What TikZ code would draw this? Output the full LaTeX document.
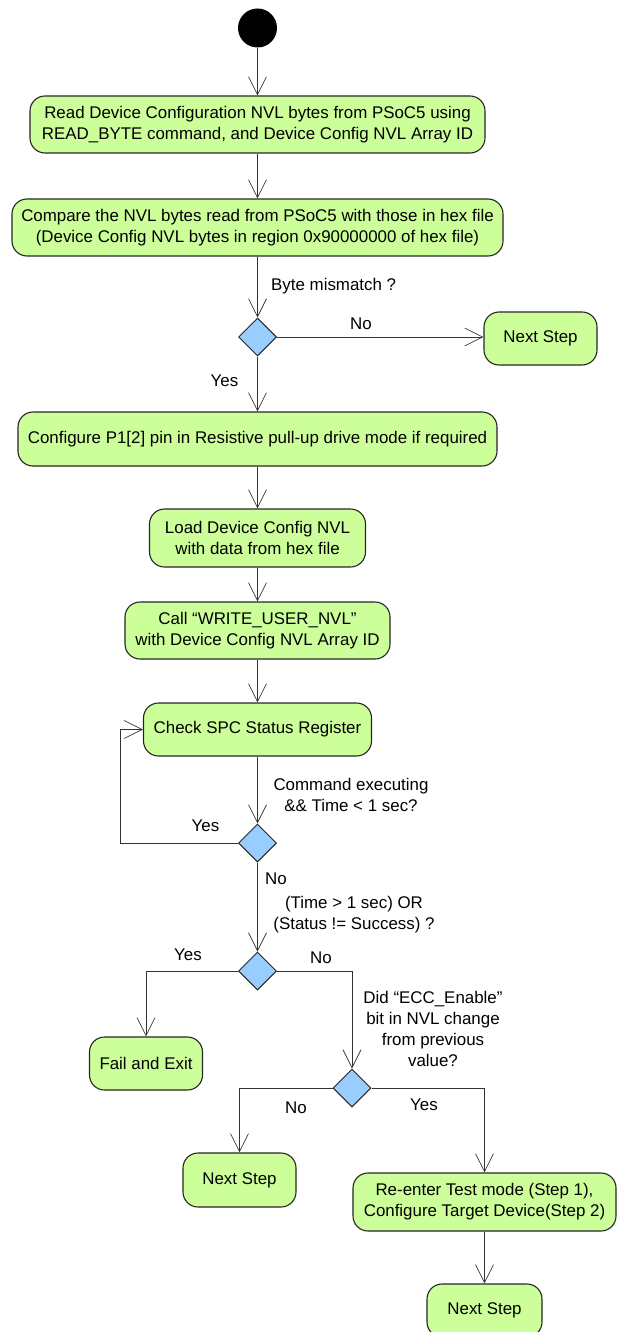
\documentclass[tikz,border=0pt]{standalone}
\usepackage{fontspec}
\setmainfont{Liberation Sans}
\usetikzlibrary{arrows.meta,shapes.geometric}
\definecolor{actgreen}{HTML}{CCFF99}
\definecolor{decblue}{HTML}{99CCFF}
\begin{document}
\begin{tikzpicture}[x=1pt,y=-1pt,
  every node/.style={font=\fontsize{16.9}{21}\selectfont},
  act/.style={draw=black!85, line width=1.1pt, fill=actgreen, rounded corners=15pt, align=center, inner sep=0pt},
  dec/.style={diamond, draw=black!85, line width=1pt, fill=decblue, minimum width=38pt, minimum height=38pt, inner sep=0pt},
  ini/.style={circle, fill=black, minimum size=39pt, inner sep=0pt},
  flow/.style={draw=black!80, line width=0.7pt, -{Straight Barb[length=18pt,width=18pt]}},
  lbl/.style={inner sep=0pt, align=center}]
\useasboundingbox (0,0) rectangle (620,1332);
\fill[white] (0,0) rectangle (620,1332);
% nodes
\node[ini] (s) at (257.5,28) {};
\node[act, minimum width=455pt, minimum height=57pt] (b1) at (257.5,124.5) {Read Device Configuration NVL bytes from PSoC5 using\\READ\_BYTE command, and Device Config NVL Array ID};
\node[act, minimum width=491pt, minimum height=57pt] (b2) at (257.5,227.5) {Compare the NVL bytes read from PSoC5 with those in hex file\\(Device Config NVL bytes in region 0x90000000 of hex file)};
\node[dec] (d1) at (257.5,337) {};
\node[act, minimum width=113pt, minimum height=53pt] (ns1) at (540.5,338.5) {Next Step};
\node[act, minimum width=479pt, minimum height=54pt] (b3) at (257.5,439) {Configure P1[2] pin in Resistive pull-up drive mode if required};
\node[act, minimum width=216pt, minimum height=58pt] (b4) at (257.5,538) {Load Device Config NVL\\with data from hex file};
\node[act, minimum width=265pt, minimum height=57pt] (b5) at (257.5,630.5) {Call “WRITE\_USER\_NVL”\\with Device Config NVL Array ID};
\node[act, minimum width=228pt, minimum height=53pt] (b6) at (257.5,729.5) {Check SPC Status Register};
\node[dec] (d2) at (257.5,843) {};
\node[dec] (d3) at (257.5,971) {};
\node[act, minimum width=113pt, minimum height=53pt] (fail) at (146,1063.5) {Fail and Exit};
\node[dec] (d4) at (352,1088) {};
\node[act, minimum width=113pt, minimum height=54pt] (ns2) at (239.5,1180) {Next Step};
\node[act, minimum width=263pt, minimum height=58pt] (re) at (484.5,1202) {Re-enter Test mode (Step 1),\\Configure Target Device(Step 2)};
\node[act, minimum width=115pt, minimum height=53pt] (ns3) at (484.5,1310.5) {Next Step};
% labels
\node[lbl, anchor=west] (l1) at (271,286) {Byte mismatch ?};
\node[lbl] (l2) at (361,324) {No};
\node[lbl] (l3) at (224.5,381) {Yes};
\node[lbl] (l4) at (351,795) {Command executing\\\&\& Time < 1 sec?};
\node[lbl] (l5) at (205.5,826) {Yes};
\node[lbl] (l6) at (276,879) {No};
\node[lbl] (l7) at (354,915) {(Time > 1 sec) OR\\(Status != Success) ?};
\node[lbl] (l8) at (188,955) {Yes};
\node[lbl] (l9) at (321,958) {No};
\node[lbl] (l10) at (433,1028.5) {Did “ECC\_Enable”\\bit in NVL change\\from previous\\value?};
\node[lbl] (l11) at (296,1108) {No};
\node[lbl] (l12) at (424,1105) {Yes};
% connectors
\draw[flow] (s) -- (b1);
\draw[flow] (b1) -- (b2);
\draw[flow] (b2) -- (d1);
\draw[flow] (d1.east) -- (ns1.west |- d1.east);
\draw[flow] (d1) -- (b3);
\draw[flow] (b3) -- (b4);
\draw[flow] (b4) -- (b5);
\draw[flow] (b5) -- (b6);
\draw[flow] (b6) -- (d2);
\coordinate (lp) at (120.5,843);
\draw[flow] (d2.west) -- (lp) |- (b6.west);
\draw[flow] (d2) -- (d3);
\draw[flow] (d3.west) -| (fail.north);
\draw[flow] (d3.east) -| (d4.north);
\draw[flow] (d4.west) -| (ns2.north);
\draw[flow] (d4.east) -| (re.north);
\draw[flow] (re) -- (ns3);
\end{tikzpicture}
\end{document}
